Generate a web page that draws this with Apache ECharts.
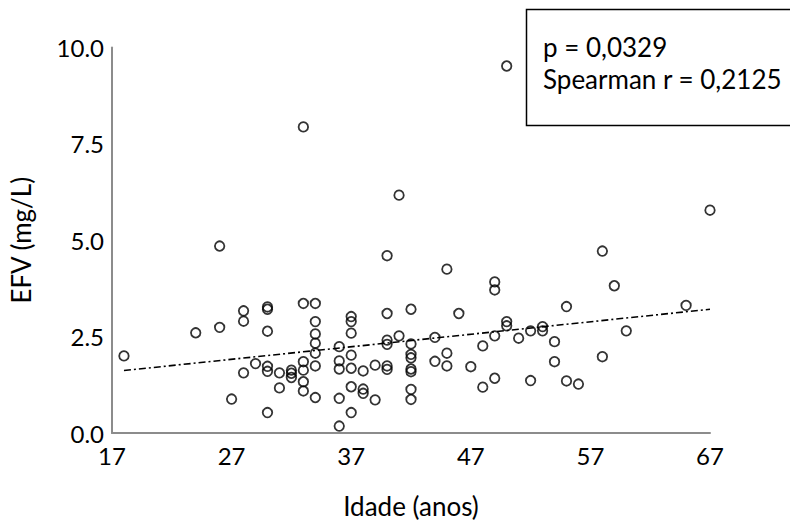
<!DOCTYPE html>
<html>
<head>
<meta charset="utf-8">
<script src="https://cdn.jsdelivr.net/npm/echarts@6/dist/echarts.min.js"></script>
<style>
  html, body { margin: 0; padding: 0; background: #fff; }
  #chart { width: 790px; height: 524px; }
</style>
</head>
<body>
<div id="chart"></div>
<script>
// Age (years) of each patient and the matching efavirenz plasma level (mg/L)
const age = [
  18, 24, 26, 26, 27, 28, 28, 28, 29,
  30, 30, 30, 30, 30, 30, 31, 31, 32, 32, 32,
  33, 33, 33, 33, 33, 33,
  34, 34, 34, 34, 34, 34, 34,
  36, 36, 36, 36, 36,
  37, 37, 37, 37, 37, 37, 37,
  38, 38, 38, 39, 39,
  40, 40, 40, 40, 40, 40, 41, 41,
  42, 42, 42, 42, 42, 42, 42, 42,
  44, 44, 45, 45, 45, 46, 47, 48, 48,
  49, 49, 49, 49, 50, 50, 50, 51, 52, 52, 53, 53,
  54, 54, 55, 55, 56, 58, 58, 59, 60, 65, 67
];
const efv = [
  2.00, 2.60, 4.85, 2.74, 0.88, 3.17, 2.90, 1.56, 1.80,
  3.27, 3.21, 2.64, 1.73, 1.60, 0.53, 1.56, 1.17, 1.63, 1.55, 1.44,
  7.94, 3.36, 1.85, 1.63, 1.33, 1.09,
  3.36, 2.89, 2.57, 2.33, 2.07, 1.74, 0.92,
  2.24, 1.87, 1.66, 0.90, 0.18,
  3.02, 2.89, 2.59, 2.02, 1.68, 1.20, 0.53,
  1.61, 1.14, 1.03, 1.76, 0.86,
  4.60, 3.10, 2.41, 2.30, 1.74, 1.65, 6.17, 2.52,
  3.21, 2.31, 2.04, 1.95, 1.66, 1.59, 1.13, 0.87,
  2.48, 1.86, 4.25, 2.07, 1.74, 3.10, 1.72, 2.26, 1.19,
  3.92, 3.71, 2.52, 1.42, 9.52, 2.89, 2.78, 2.46, 2.65, 1.36, 2.76, 2.65,
  2.37, 1.85, 3.28, 1.35, 1.27, 4.72, 1.98, 3.82, 2.65, 3.31, 5.78
];

// Fitted trend line end points
const fitAge = [18, 67];
const fitEfv = [1.62, 3.21];

// Axis ticks
const xTicks = [17, 27, 37, 47, 57, 67];
const yMin = 0, yMax = 10, yStep = 2.5;

// Correlation summary shown in the box
const statLines = ['p = 0,0329', 'Spearman r = 0,2125'];

const FONT = 'Lato, "Open Sans", sans-serif';
const AXIS_GRAY = '#8c8c8c';

const points = age.map((a, i) => [a, efv[i]]);
const fitLine = fitAge.map((a, i) => [a, fitEfv[i]]);

const chart = echarts.init(document.getElementById('chart'), null, { renderer: 'svg' });

chart.setOption({
  backgroundColor: '#fff',
  animation: false,
  grid: { left: 109, top: 47.5, width: 601, height: 385.5, containLabel: false },
  xAxis: {
    type: 'value',
    min: 17,
    max: 67,
    name: 'Idade (anos)',
    nameLocation: 'middle',
    nameGap: 60,
    nameTextStyle: { fontFamily: FONT, fontSize: 26, color: '#000' },
    axisLine: { show: true, lineStyle: { color: AXIS_GRAY, width: 2 } },
    axisTick: { show: false, customValues: xTicks },
    axisLabel: {
      customValues: xTicks,
      margin: 10,
      fontFamily: FONT,
      fontSize: 24,
      color: '#000'
    },
    splitLine: { show: false }
  },
  yAxis: {
    type: 'value',
    min: yMin,
    max: yMax,
    interval: yStep,
    name: 'EFV (mg/L)',
    nameLocation: 'middle',
    nameGap: 78,
    nameTextStyle: { fontFamily: FONT, fontSize: 26, color: '#000' },
    axisLine: { show: true, lineStyle: { color: AXIS_GRAY, width: 2 } },
    axisTick: { show: false },
    axisLabel: {
      margin: 8,
      fontFamily: FONT,
      fontSize: 24,
      color: '#000',
      formatter: v => v.toFixed(1)
    },
    splitLine: { show: false }
  },
  series: [
    {
      type: 'line',
      data: fitLine,
      symbol: 'none',
      silent: true,
      z: 1,
      lineStyle: { color: '#000', width: 1.6, type: [7, 3, 2, 3] }
    },
    {
      type: 'scatter',
      data: points,
      symbol: 'circle',
      symbolSize: 9.5,
      z: 2,
      itemStyle: { color: 'rgba(255,255,255,0)', borderColor: '#000', borderWidth: 1.8 }
    }
  ],
  graphic: [
    {
      type: 'rect',
      shape: { x: 526.5, y: 9.5, width: 290, height: 116 },
      style: { fill: '#fff', stroke: '#000', lineWidth: 1.5 },
      z: 10
    },
    {
      type: 'text',
      x: 543,
      y: 47,
      style: {
        text: statLines[0],
        fontFamily: FONT, fontSize: 26, fill: '#000',
        verticalAlign: 'middle'
      },
      z: 11
    },
    {
      type: 'text',
      x: 543,
      y: 79,
      style: {
        text: statLines[1],
        fontFamily: FONT, fontSize: 26, fill: '#000',
        verticalAlign: 'middle'
      },
      z: 11
    }
  ]
});
</script>
</body>
</html>
